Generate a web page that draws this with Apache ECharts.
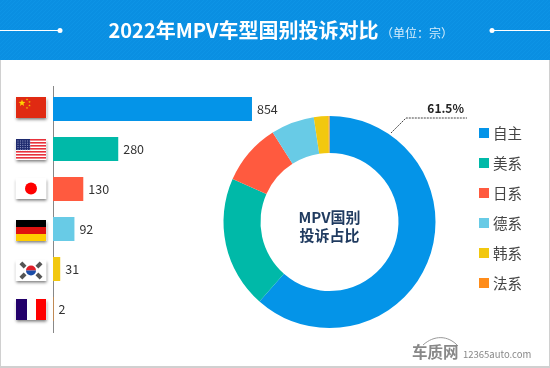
<!DOCTYPE html>
<html><head><meta charset="utf-8">
<style>html,body{margin:0;padding:0;background:#fff}#c{width:550px;height:368px}</style>
<script src="https://cdn.jsdelivr.net/npm/echarts@6/dist/echarts.min.js"></script>
</head><body><div id="c"></div>
<script>
const categories = ['自主','美系','日系','德系','韩系','法系'];
const complaints = [854,280,130,92,31,2];
const colors = ['#0494E8','#00B9A8','#FF5A3F','#68CBE6','#F2C80F','#FF8C1A'];
const titleText = '2022年MPV车型国别投诉对比';
const unitText = '（单位：宗）';
const centerText = 'MPV国别\n投诉占比';
const FONT = '"Noto Sans CJK SC","Noto Sans",sans-serif';
const total = complaints.reduce((a,b)=>a+b,0);
const topShare = (complaints[0]/total*100).toFixed(1)+'%';

function flag(draw){
  const c=document.createElement('canvas');c.width=30;c.height=21;
  const g=c.getContext('2d');draw(g);return c;
}
function star(g,x,y,r,col){
  g.fillStyle=col;g.beginPath();
  for(let i=0;i<10;i++){const a=-Math.PI/2+i*Math.PI/5,q=i%2?r*0.42:r;g.lineTo(x+q*Math.cos(a),y+q*Math.sin(a));}
  g.closePath();g.fill();
}
const flags=[
 flag(g=>{g.fillStyle='#E02A12';g.fillRect(0,0,30,21);star(g,6,6,3.6,'#FFD400');
   [[11,2.5],[13.5,5],[13.5,8.5],[11,11]].forEach(p=>star(g,p[0],p[1],1.3,'#F2B800'));}),
 flag(g=>{g.fillStyle='#fff';g.fillRect(0,0,30,21);g.fillStyle='#E8323C';
   for(let i=0;i<7;i++)g.fillRect(0,i*3,30,1.6);
   g.fillStyle='#1E2A6E';g.fillRect(0,0,14,11);g.fillStyle='#9FA6D0';
   for(let y=1.5;y<11;y+=2.2)for(let x=1.5;x<14;x+=2.4)g.fillRect(x,y,1,1);}),
 flag(g=>{g.fillStyle='#fff';g.fillRect(0,0,30,21);g.fillStyle='#FF0000';g.beginPath();g.arc(15,10.5,6,0,7);g.fill();}),
 flag(g=>{g.fillStyle='#000';g.fillRect(0,0,30,7);g.fillStyle='#E0120F';g.fillRect(0,7,30,7);g.fillStyle='#FFCC00';g.fillRect(0,14,30,7);}),
 flag(g=>{g.fillStyle='#fff';g.fillRect(0,0,30,21);
   g.fillStyle='#E0202A';g.beginPath();g.arc(15,10.5,5,Math.PI,0);g.fill();
   g.fillStyle='#1B4DA8';g.beginPath();g.arc(15,10.5,5,0,Math.PI);g.fill();
   g.fillStyle='#555';[[7,5,0.8],[23,5,-0.8],[7,16,-0.8],[23,16,0.8]].forEach(p=>{g.save();g.translate(p[0],p[1]);g.rotate(p[2]);g.fillRect(-3,-2,6,4);g.restore();});}),
 flag(g=>{g.fillStyle='#22006A';g.fillRect(0,0,11,21);g.fillStyle='#fff';g.fillRect(11,0,9,21);g.fillStyle='#FF0000';g.fillRect(20,0,10,21);})
];
const flagTops=[97,139,178,220,260,299];

const hatch=document.createElement('canvas');hatch.width=4;hatch.height=4;
(function(){const g=hatch.getContext('2d');g.fillStyle='#0A8FE2';g.fillRect(0,0,4,4);
 g.strokeStyle='#0D94E6';g.lineWidth=1;g.beginPath();g.moveTo(0,4);g.lineTo(4,0);g.stroke();})();

const graphics=[
 {type:'rect',z:0,shape:{x:0,y:0,width:550,height:60},style:{fill:{image:hatch,repeat:'repeat'}}},
 {type:'rect',z:0,shape:{x:0,y:60,width:1,height:308},style:{fill:'#D0D0D0'}},
 {type:'rect',z:0,shape:{x:549,y:60,width:1,height:308},style:{fill:'#D0D0D0'}},
 {type:'rect',z:0,shape:{x:0,y:366,width:550,height:2},style:{fill:'#D0D0D0'}},
 {type:'line',shape:{x1:0,y1:30.5,x2:60,y2:30.5},style:{stroke:'#fff',lineWidth:1}},
 {type:'circle',shape:{cx:60,cy:30.5,r:2.5},style:{fill:'#fff'}},
 {type:'circle',shape:{cx:492,cy:30.5,r:2.5},style:{fill:'#fff'}},
 {type:'line',shape:{x1:492,y1:30.5,x2:550,y2:30.5},style:{stroke:'#fff',lineWidth:1}},
 {type:'text',x:108.5,y:30.5,style:{text:titleText,fill:'#fff',font:'bold 20px '+FONT,textVerticalAlign:'middle'}},
 {type:'text',x:381,y:33,style:{text:unitText,fill:'#D8EEFB',font:'12px '+FONT,textVerticalAlign:'middle'}},
 {type:'line',shape:{x1:53.5,y1:86,x2:53.5,y2:333},style:{stroke:'#888',lineWidth:1}},
 {type:'text',x:329.5,y:226,z:10,style:{text:centerText,fill:'#1F3A5F',font:'bold 15px '+FONT,textAlign:'center',textVerticalAlign:'middle',lineHeight:18}},
 {type:'polyline',z:10,shape:{points:[[391,133],[406,118],[467,118]]},style:{stroke:'#444',lineWidth:1,lineDash:[2,1],fill:null}},
 {type:'text',x:464,y:108,z:10,style:{text:topShare,fill:'#222',font:'bold 12px '+FONT,textAlign:'right',textVerticalAlign:'middle'}},
 {type:'bezierCurve',shape:{x1:423,y1:345,cpx1:434,cpx2:448,cpy1:335,cpy2:335,x2:458,y2:346},style:{stroke:'#999',lineWidth:1,fill:null}},
 {type:'text',x:412,y:352,style:{text:'车质网',fill:'#888',font:'bold 15.5px '+FONT,textVerticalAlign:'middle'}},
 {type:'text',x:463,y:354,style:{text:'12365auto.com',fill:'#888',font:'9.5px '+FONT,textVerticalAlign:'middle'}}
];
flags.forEach((c,i)=>{
 graphics.push({type:'rect',z:1,shape:{x:15.5,y:flagTops[i]-0.5,width:31,height:21.5},style:{fill:'#fff',shadowBlur:3,shadowOffsetY:2,shadowColor:'rgba(0,0,0,0.55)'}});
 graphics.push({type:'image',z:2,style:{image:c,x:16,y:flagTops[i],width:30,height:21}});
});

const chart=echarts.init(document.getElementById('c'),null,{renderer:'canvas'});
chart.setOption({
 animation:false,backgroundColor:'#fff',
 textStyle:{fontFamily:FONT},
 grid:{left:53,top:89,width:233,height:240},
 xAxis:{type:'value',min:0,max:1000,show:false},
 yAxis:{type:'category',inverse:true,data:categories,axisLine:{show:false},axisTick:{show:false},axisLabel:{show:false}},
 legend:{orient:'vertical',left:479,top:124.5,padding:0,itemWidth:10,itemHeight:10,itemGap:13,selectedMode:false,icon:'rect',
   data:categories,textStyle:{fontSize:14.5,color:'#444',fontFamily:FONT,padding:[0,0,0,-1],lineHeight:17}},
 series:[
  {type:'bar',barWidth:24,legendHoverLink:false,
   data:complaints.map((v,i)=>({value:v,itemStyle:{color:colors[i]}})),
   label:{show:true,position:'right',distance:5,fontSize:12.5,color:'#333',fontFamily:FONT}},
  {type:'pie',center:[329.5,222],radius:[69,106],startAngle:90,clockwise:true,label:{show:false},labelLine:{show:false},
   data:categories.map((n,i)=>({name:n,value:complaints[i],itemStyle:{color:colors[i]}}))}
 ],
 graphic:{elements:graphics}
});
</script></body></html>
